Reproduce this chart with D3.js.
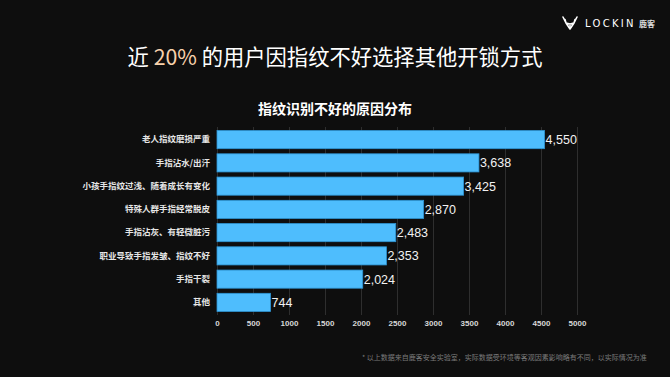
<!DOCTYPE html>
<html>
<head>
<meta charset="utf-8">
<script src="https://cdn.jsdelivr.net/npm/d3@7"></script>
<style>
  html, body { margin: 0; padding: 0; background: #0e0e0e; }
  svg { display: block; }
</style>
</head>
<body>
<div id="chart"></div>
<script>
const categories = [
  '老人指纹磨损严重',
  '手指沾水/出汗',
  '小孩手指纹过浅、随着成长有变化',
  '特殊人群手指经常脱皮',
  '手指沾灰、有轻微脏污',
  '职业导致手指发皱、指纹不好',
  '手指干裂',
  '其他'
];
const counts = [4550, 3638, 3425, 2870, 2483, 2353, 2024, 744];
const xTicks = [0, 500, 1000, 1500, 2000, 2500, 3000, 3500, 4000, 4500, 5000];

const W = 670, H = 377;
const fontCJK = "'Noto Sans CJK SC', 'Noto Sans', sans-serif";

const svg = d3.select('#chart').append('svg')
  .attr('width', W).attr('height', H);

svg.append('rect').attr('width', W).attr('height', H).attr('fill', '#0e0e0e');

// logo
const logo = svg.append('g').attr('transform', 'translate(563,17)');
logo.append('path')
  .attr('d', 'M0,0 L3,6 L7,7 L11,6 L14,0 M3,6 L2,2.5 M11,6 L12,2.5 M3,6 L7,12 L11,6')
  .attr('fill', 'none').attr('stroke', '#fff').attr('stroke-width', 1.6)
  .attr('stroke-linejoin', 'round').attr('stroke-linecap', 'round');
logo.append('circle').attr('cx', 7).attr('cy', 9).attr('r', 1.1).attr('fill', '#fff');
svg.append('text')
  .attr('x', 585).attr('y', 27)
  .attr('font-family', "'DejaVu Sans', sans-serif")
  .attr('font-size', 10).attr('fill', '#fff')
  .attr('letter-spacing', 2.3)
  .text('LOCKIN');
svg.append('text')
  .attr('x', 639).attr('y', 27)
  .attr('font-family', fontCJK)
  .attr('font-size', 8).attr('font-weight', 'bold').attr('fill', '#ddd')
  .text('鹿客');

// title
const title = svg.append('text')
  .attr('x', 335).attr('y', 65)
  .attr('text-anchor', 'middle')
  .attr('font-family', fontCJK)
  .attr('font-size', 21.3).attr('fill', '#fff');
title.append('tspan').text('近 ');
title.append('tspan').attr('fill', '#f8d2ac').text('20%');
title.append('tspan').text(' 的用户因指纹不好选择其他开锁方式');

svg.append('text')
  .attr('x', 335).attr('y', 114)
  .attr('text-anchor', 'middle')
  .attr('font-family', fontCJK)
  .attr('font-size', 14).attr('font-weight', 'bold').attr('fill', '#fff')
  .text('指纹识别不好的原因分布');

// scales
const x = d3.scaleLinear().domain([0, 5000]).range([217, 577]);
const y = d3.scaleBand().domain(categories).range([128, 314])
  .paddingInner(0.22).paddingOuter(0.11);

// grid
svg.append('g')
  .attr('class', 'grid')
  .attr('transform', 'translate(0,315)')
  .call(d3.axisBottom(x).tickValues(xTicks).tickSize(-188).tickFormat(() => ''))
  .call(g => g.select('.domain').remove())
  .selectAll('line')
  .attr('stroke', '#2e2e2e').attr('stroke-width', 1);

// x axis labels
svg.append('g')
  .attr('class', 'axis-x')
  .attr('transform', 'translate(0,315)')
  .call(d3.axisBottom(x).tickValues(xTicks).tickSize(0).tickPadding(5).tickFormat(d3.format('d')))
  .call(g => g.select('.domain').remove())
  .selectAll('text')
  .attr('font-family', "'Liberation Sans', Arial, sans-serif")
  .attr('font-size', 8).attr('font-weight', 'bold')
  .attr('fill', '#d8d8d8');

// y axis labels
svg.append('g')
  .attr('class', 'axis-y')
  .attr('transform', 'translate(217,0)')
  .call(d3.axisLeft(y).tickSize(0).tickPadding(7))
  .call(g => g.select('.domain').remove())
  .selectAll('text')
  .attr('font-family', fontCJK)
  .attr('font-size', 8.5).attr('font-weight', 'bold')
  .attr('fill', '#e6e6e6');

// bars
const data = categories.map((c, i) => ({ name: c, value: counts[i] }));
svg.append('g').selectAll('rect')
  .data(data)
  .join('rect')
  .attr('x', x(0))
  .attr('y', d => y(d.name))
  .attr('width', d => x(d.value) - x(0))
  .attr('height', y.bandwidth())
  .attr('fill', '#4ebdfd')
  .attr('stroke', '#2e94d4')
  .attr('stroke-width', 0.8);

// value labels
svg.append('g').selectAll('text')
  .data(data)
  .join('text')
  .attr('x', d => x(d.value) + 1)
  .attr('y', d => y(d.name) + y.bandwidth() / 2)
  .attr('dy', '0.36em')
  .attr('font-family', "'Liberation Sans', Arial, sans-serif")
  .attr('font-size', 12.5)
  .attr('fill', '#f2f2f2')
  .text(d => d3.format(',')(d.value));

// footnote
svg.append('text')
  .attr('x', 362).attr('y', 360)
  .attr('font-family', fontCJK)
  .attr('font-size', 7).attr('fill', '#7a7a7a')
  .text('*  以上数据来自鹿客安全实验室，实际数据受环境等客观因素影响略有不同，以实际情况为准');
</script>
</body>
</html>
